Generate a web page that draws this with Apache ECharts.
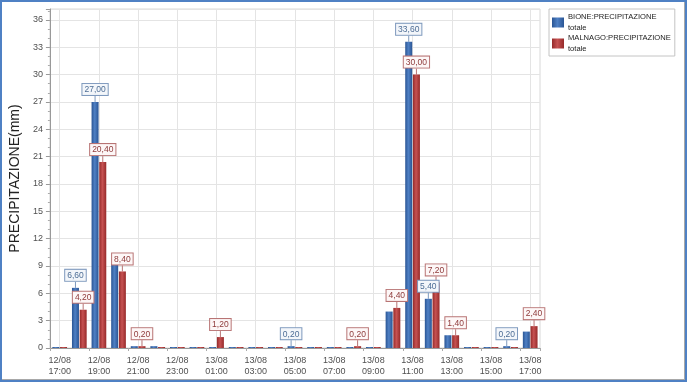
<!DOCTYPE html>
<html>
<head>
<meta charset="utf-8">
<script src="https://cdn.jsdelivr.net/npm/echarts@6/dist/echarts.min.js"></script>
<style>
html,body{margin:0;padding:0;background:#fff;}
#c{width:687px;height:382px;}
</style>
</head>
<body>
<div id="c"></div>
<script>
const categories = [
  '12/08\n17:00','12/08\n18:00','12/08\n19:00','12/08\n20:00','12/08\n21:00','12/08\n22:00','12/08\n23:00',
  '13/08\n00:00','13/08\n01:00','13/08\n02:00','13/08\n03:00','13/08\n04:00','13/08\n05:00','13/08\n06:00',
  '13/08\n07:00','13/08\n08:00','13/08\n09:00','13/08\n10:00','13/08\n11:00','13/08\n12:00','13/08\n13:00',
  '13/08\n14:00','13/08\n15:00','13/08\n16:00','13/08\n17:00'
];
const bione   = [0, 6.6, 27.0, 9.2, 0.2, 0.2, 0, 0, 0, 0, 0, 0, 0.2, 0, 0, 0, 0, 4.0, 33.6, 5.4, 1.4, 0, 0, 0.2, 1.8];
const malnago = [0, 4.2, 20.4, 8.4, 0.2, 0, 0, 0, 1.2, 0, 0, 0, 0, 0, 0, 0.2, 0, 4.4, 30.0, 7.2, 1.4, 0, 0, 0, 2.4];
const bioneLabelled   = [1, 2, 12, 18, 19, 23];
const malnagoLabelled = [1, 2, 3, 4, 8, 15, 17, 18, 19, 20, 24];
const seriesNames = ['BIONE:PRECIPITAZIONE\ntotale', 'MALNAGO:PRECIPITAZIONE\ntotale'];
const yTicks = { min: 0, max: 37.2, interval: 3 };

const FONT = "'Liberation Sans', Arial, sans-serif";
const fmt = p => p.value.toFixed(2).replace('.', ',');

function grad(edge, mid) {
  return new echarts.graphic.LinearGradient(0, 0, 1, 0, [
    {offset: 0, color: edge}, {offset: 0.45, color: mid}, {offset: 1, color: edge}
  ]);
}
const blueFill = grad('#2a5594', '#4f80c4');
const redFill = grad('#962a2a', '#c65252');

function makeData(vals, labelled) {
  return vals.map((v, i) => ({ value: v, label: { show: labelled.includes(i) } }));
}
function labelStyle(text, border, bg) {
  return {
    position: 'top', distance: 0, formatter: fmt,
    fontFamily: FONT, fontSize: 8.5, lineHeight: 10, color: text,
    backgroundColor: bg, borderColor: border, borderWidth: 1, padding: [1, 2, 0, 2]
  };
}

const chart = echarts.init(document.getElementById('c'), null, {renderer: 'canvas'});
chart.setOption({
  animation: false,
  backgroundColor: '#fff',
  grid: { left: 44, top: 9, right: 147, bottom: 34, show: true, borderColor: '#d8d8d8', borderWidth: 1 },
  legend: {
    orient: 'vertical', left: 549, top: 9, icon: 'rect',
    padding: [3, 4, 2, 3], itemGap: 0, itemWidth: 12, itemHeight: 10,
    backgroundColor: '#fff', borderColor: '#c4c4c4', borderWidth: 1,
    textStyle: { fontFamily: FONT, fontSize: 7.6, lineHeight: 10.5, color: '#222', padding: [0, 0, 0, -1] },
    data: seriesNames
  },
  xAxis: {
    type: 'category', data: categories, boundaryGap: true,
    axisLine: { lineStyle: { color: '#999' } },
    axisTick: { show: true, length: 3, lineStyle: { color: '#aaa' } },
    axisLabel: { interval: 1, fontFamily: FONT, fontSize: 9, lineHeight: 11, color: '#505050', margin: 7 },
    splitLine: { show: true, interval: 1, alignWithLabel: true, lineStyle: { color: '#e4e4e4' } }
  },
  yAxis: {
    type: 'value', min: yTicks.min, max: yTicks.max, interval: yTicks.interval,
    name: 'PRECIPITAZIONE(mm)', nameLocation: 'middle', nameGap: 24,
    nameTextStyle: { fontFamily: FONT, fontSize: 14, color: '#222' },
    axisLine: { show: true, lineStyle: { color: '#999' } },
    axisTick: { show: true, length: 4, lineStyle: { color: '#999' } },
    minorTick: { show: true, splitNumber: 3, length: 2, lineStyle: { color: '#aaa' } },
    axisLabel: { showMaxLabel: false, fontFamily: FONT, fontSize: 9, color: '#505050', margin: 7 },
    splitLine: { show: true, lineStyle: { color: '#e4e4e4' } }
  },
  series: [
    {
      name: seriesNames[0], type: 'bar', barWidth: 7, barGap: '10%', barMinHeight: 1,
      itemStyle: { color: blueFill },
      label: labelStyle('#4d6d95', '#7e99bd', '#f3f6fa'),
      labelLayout: { dy: -7 },
      labelLine: { show: true, lineStyle: { color: '#7e99bd', width: 1 } },
      data: makeData(bione, bioneLabelled)
    },
    {
      name: seriesNames[1], type: 'bar', barWidth: 7, barGap: '10%', barMinHeight: 1,
      itemStyle: { color: redFill },
      label: labelStyle('#8e3a3a', '#b87474', '#fdf7f7'),
      labelLayout: { dy: -7 },
      labelLine: { show: true, lineStyle: { color: '#b87474', width: 1 } },
      data: makeData(malnago, malnagoLabelled)
    }
  ],
  graphic: [
    { type: 'line', silent: true, shape: { x1: 684.5, y1: 0, x2: 684.5, y2: 380 }, style: { stroke: '#a8a8a8', lineWidth: 1 } },
    { type: 'line', silent: true, shape: { x1: 0, y1: 379.5, x2: 685, y2: 379.5 }, style: { stroke: '#a8a8a8', lineWidth: 1 } },
    { type: 'rect', silent: true, shape: { x: 1, y: 1, width: 685, height: 380 }, style: { fill: null, stroke: '#4f81c4', lineWidth: 2 } }
  ]
});
</script>
</body>
</html>
